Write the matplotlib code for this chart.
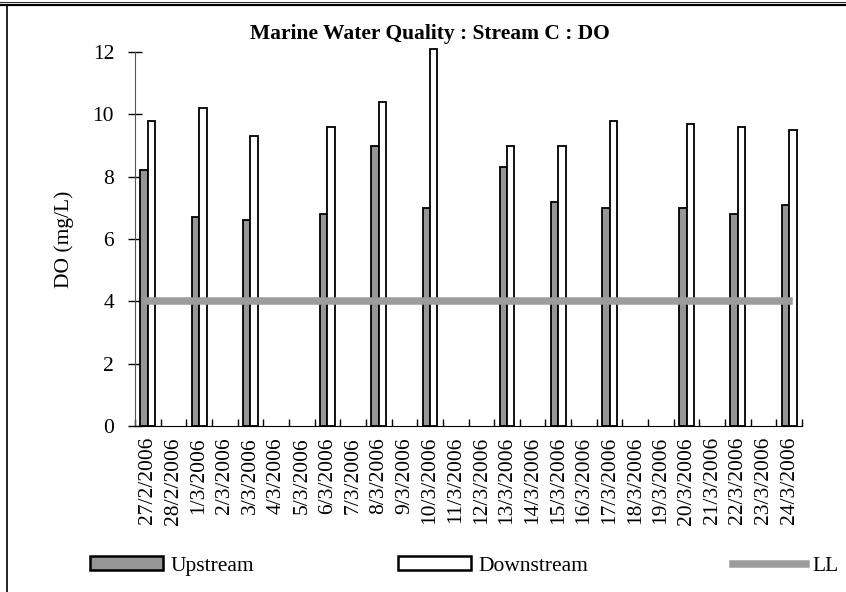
import numpy as np
import matplotlib
matplotlib.use("Agg")
import matplotlib.pyplot as plt
from matplotlib.patches import Patch
from matplotlib.lines import Line2D

plt.rcParams["font.family"] = ["Liberation Serif", "DejaVu Serif"]

# Sampling dates (every day in the survey window; gaps where no sample was taken)
dates = [
    "27/2/2006", "28/2/2006", "1/3/2006", "2/3/2006", "3/3/2006", "4/3/2006",
    "5/3/2006", "6/3/2006", "7/3/2006", "8/3/2006", "9/3/2006", "10/3/2006",
    "11/3/2006", "12/3/2006", "13/3/2006", "14/3/2006", "15/3/2006",
    "16/3/2006", "17/3/2006", "18/3/2006", "19/3/2006", "20/3/2006",
    "21/3/2006", "22/3/2006", "23/3/2006", "24/3/2006",
]
nan = np.nan
upstream = [8.2, nan, 6.7, nan, 6.6, nan, nan, 6.8, nan, 9.0, nan, 7.0, nan,
            nan, 8.3, nan, 7.2, nan, 7.0, nan, nan, 7.0, nan, 6.8, nan, 7.1]
downstream = [9.8, nan, 10.2, nan, 9.3, nan, nan, 9.6, nan, 10.4, nan, 12.1, nan,
              nan, 9.0, nan, 9.0, nan, 9.8, nan, nan, 9.7, nan, 9.6, nan, 9.5]
lower_limit = 4.0

FS = 15.5

fig = plt.figure(figsize=(8.46, 5.92), dpi=100)
ax = fig.add_axes([135 / 846, 1 - 426 / 592, 667 / 846, 374 / 592])

x = np.arange(len(dates))
w = 0.29
ax.bar(x - w / 2, upstream, w, color="#969696", edgecolor="black",
       linewidth=1.3, zorder=2)
ax.bar(x + w / 2, downstream, w, color="white", edgecolor="black",
       linewidth=1.3, zorder=2, clip_on=False)
ax.plot(x, [lower_limit] * len(x), color="#9c9c9c", linewidth=5.4,
        solid_capstyle="projecting", zorder=3)

ax.set_xlim(-0.5, len(dates) - 0.5)
ax.set_ylim(0, 12)
ax.set_yticks(range(0, 13, 2))
ax.set_xticks(x)
ax.set_xticklabels(dates, rotation=90, fontsize=FS)
ax.set_xticks(np.arange(-0.5, len(dates)), minor=True)
ax.tick_params(axis="x", which="major", length=0, pad=8)
ax.tick_params(axis="x", which="minor", direction="in", length=5, width=1)
ax.tick_params(axis="y", direction="inout", length=10, width=1, pad=10,
               labelsize=FS)

for side in ("top", "right"):
    ax.spines[side].set_visible(False)
ax.spines["left"].set_color("#555555")

ax.set_ylabel("DO (mg/L)", fontsize=FS)
ax.yaxis.set_label_coords(-0.092, 0.5)

fig.text(430 / 846, 1 - 34 / 592, "Marine Water Quality : Stream C : DO",
         ha="center", va="center", fontsize=15.5, fontweight="bold")

handles = [
    Patch(facecolor="#969696", edgecolor="black", linewidth=1.8),
    Patch(facecolor="white", edgecolor="black", linewidth=1.8),
    Line2D([], [], color="#9c9c9c", linewidth=5.4),
]
fig.legend(handles, ["Upstream", "Downstream", "LL"], ncol=3,
           loc="center left", bbox_to_anchor=(90 / 846, 1 - 566 / 592),
           frameon=False, fontsize=FS, handlelength=3.4, handleheight=0.6,
           handletextpad=0.33, columnspacing=6.7, borderpad=0,
           borderaxespad=0)

# page frame: double rule along the top, single rule down the left
fig.add_artist(Line2D([0, 1], [1 - 1.5 / 592] * 2, color="#333333",
                      linewidth=0.8, transform=fig.transFigure))
fig.add_artist(Line2D([0, 1], [1 - 4.5 / 592] * 2, color="black",
                      linewidth=1.6, transform=fig.transFigure))
fig.add_artist(Line2D([7 / 846] * 2, [0, 1 - 4.5 / 592], color="black",
                      linewidth=1.2, transform=fig.transFigure))

fig.savefig("out.png", dpi=100)
